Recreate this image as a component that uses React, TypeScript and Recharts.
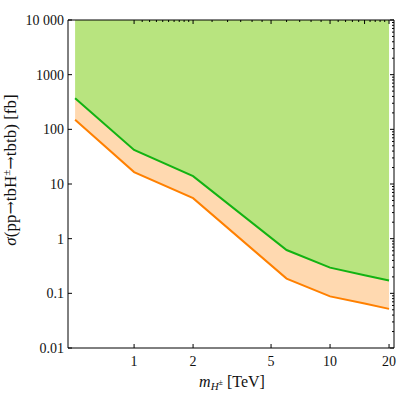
import React from "react";
import {
  Area,
  ComposedChart,
  Line,
  XAxis,
  YAxis,
} from "recharts";

// masses in TeV and cross-section limits in fb
const masses = [0.5, 1, 2, 6, 10, 15, 20];
const greenLimit = [370, 42, 13.9, 0.62, 0.295, 0.215, 0.172];
const orangeLimit = [150, 16.5, 5.5, 0.186, 0.088, 0.065, 0.052];
const CEILING = 10000;

const xTicks = [1, 2, 5, 10, 20];
const yTicks = [0.01, 0.1, 1, 10, 100, 1000, 10000];
const yTickLabels = ["0.01", "0.1", "1", "10", "100", "1000", "10 000"];
const topMajor = [1, 2, 5, 10, 15, 20];
const topTicks = [
  1, 1.1, 1.2, 1.3, 1.4, 1.5, 1.6, 1.7, 1.8, 1.9, 2, 2.5, 3, 3.5, 4, 4.5, 5,
  6, 7, 8, 9, 10, 11, 12, 13, 14, 15, 16, 17, 18, 19, 20,
];
const rightTicks = [
  0.01, 0.02, 0.03, 0.04, 0.05, 0.06, 0.07, 0.08, 0.09,
  0.1, 0.2, 0.3, 0.4, 0.5, 0.6, 0.7, 0.8, 0.9,
  1, 2, 3, 4, 5, 6, 7, 8, 9,
  10, 20, 30, 40, 50, 60, 70, 80, 90,
  100, 200, 300, 400, 500, 600, 700, 800, 900,
  1000, 2000, 3000, 4000, 5000, 6000, 7000, 8000, 9000, 10000,
];

const data = masses.map((m, i) => ({
  m,
  green: greenLimit[i],
  orange: orangeLimit[i],
  band: [orangeLimit[i], greenLimit[i]],
  excluded: [greenLimit[i], CEILING],
}));

const font = "'Liberation Serif', 'DejaVu Serif', serif";
const arrowFont = "'DejaVu Serif', serif";
const greenFill = "#b8e47f";
const bandFill = "#ffd9b0";
const greenLine = "#12b312";
const orangeLine = "#ff8000";

const BottomTick = ({ x, y, payload }: any) => (
  <g>
    <line x1={x} x2={x} y1={y} y2={y - 4} stroke="#000" />
    <text x={x} y={y + 18} textAnchor="middle" fontFamily={font} fontSize={14} fill="#111">
      {payload.value}
    </text>
  </g>
);

const LeftTick = ({ x, y, payload }: any) => {
  const idx = yTicks.indexOf(payload.value);
  return (
    <g>
      <line x1={x} x2={x + 4} y1={y} y2={y} stroke="#000" />
      <text x={x - 4} y={y + 5} textAnchor="end" fontFamily={font} fontSize={14} fill="#111">
        {yTickLabels[idx]}
      </text>
    </g>
  );
};

const TopTick = ({ x, y, payload }: any) => {
  const len = topMajor.includes(payload.value) ? 4 : 2;
  return <line x1={x} x2={x} y1={y} y2={y + len} stroke="#000" />;
};

const RightTick = ({ x, y, payload }: any) => {
  const len = yTicks.includes(payload.value) ? 4 : 2;
  return <line x1={x} x2={x - len} y1={y} y2={y} stroke="#000" />;
};

export default function App() {
  return (
    <div style={{ position: "absolute", left: 0, top: 0, width: 400, height: 394, background: "#fff" }}>
      <ComposedChart
        width={400}
        height={394}
        data={data}
        margin={{ top: 19, right: 5, bottom: 45, left: 67 }}
      >
        <Area
          type="linear"
          dataKey="excluded"
          fill={greenFill}
          fillOpacity={1}
          stroke="none"
          isAnimationActive={false}
        />
        <Area
          type="linear"
          dataKey="band"
          fill={bandFill}
          fillOpacity={1}
          stroke="none"
          isAnimationActive={false}
        />
        <Line type="linear" dataKey="orange" stroke={orangeLine} strokeWidth={2} dot={false} isAnimationActive={false} />
        <Line type="linear" dataKey="green" stroke={greenLine} strokeWidth={2} dot={false} isAnimationActive={false} />
        <XAxis
          dataKey="m"
          type="number"
          scale="log"
          domain={[0.46, 21.2]}
          allowDataOverflow
          ticks={xTicks}
          interval={0}
          height={1}
          tickSize={0}
          tickMargin={0}
          tickLine={false}
          axisLine={{ stroke: "#000" }}
          tick={BottomTick}
        />
        <XAxis
          xAxisId="top"
          orientation="top"
          dataKey="m"
          type="number"
          scale="log"
          domain={[0.46, 21.2]}
          allowDataOverflow
          ticks={topTicks}
          interval={0}
          height={1}
          tickSize={0}
          tickMargin={0}
          tickLine={false}
          axisLine={{ stroke: "#000" }}
          tick={TopTick}
        />
        <YAxis
          type="number"
          scale="log"
          domain={[0.01, 10000]}
          allowDataOverflow
          ticks={yTicks}
          interval={0}
          width={1}
          tickSize={0}
          tickMargin={0}
          tickLine={false}
          axisLine={{ stroke: "#000" }}
          tick={LeftTick}
        />
        <YAxis
          yAxisId="right"
          orientation="right"
          type="number"
          scale="log"
          domain={[0.01, 10000]}
          allowDataOverflow
          ticks={rightTicks}
          interval={0}
          width={1}
          tickSize={0}
          tickMargin={0}
          tickLine={false}
          axisLine={{ stroke: "#000" }}
          tick={RightTick}
        />
      </ComposedChart>
      <svg
        width={400}
        height={394}
        style={{ position: "absolute", left: 0, top: 0, pointerEvents: "none" }}
      >
        <text
          transform="translate(16,170) rotate(-90)"
          textAnchor="middle"
          fontFamily={font}
          fontSize={17}
          fill="#111"
        >
          <tspan fontStyle="italic">σ</tspan>
          <tspan>(pp</tspan>
          <tspan fontFamily={arrowFont} fontSize={16}>→</tspan>
          <tspan>tbH</tspan>
          <tspan fontSize={11} dy={-6}>±</tspan>
          <tspan dy={6} fontFamily={arrowFont} fontSize={16}>→</tspan>
          <tspan>tbtb) [fb]</tspan>
        </text>
        <text x={232} y={387} textAnchor="middle" fontFamily={font} fontSize={16} fill="#111">
          <tspan fontStyle="italic">m</tspan>
          <tspan fontStyle="italic" fontSize={11} dy={3}>H</tspan>
          <tspan fontSize={8} dy={-5}>±</tspan>
          <tspan dy={2}> [TeV]</tspan>
        </text>
      </svg>
    </div>
  );
}
